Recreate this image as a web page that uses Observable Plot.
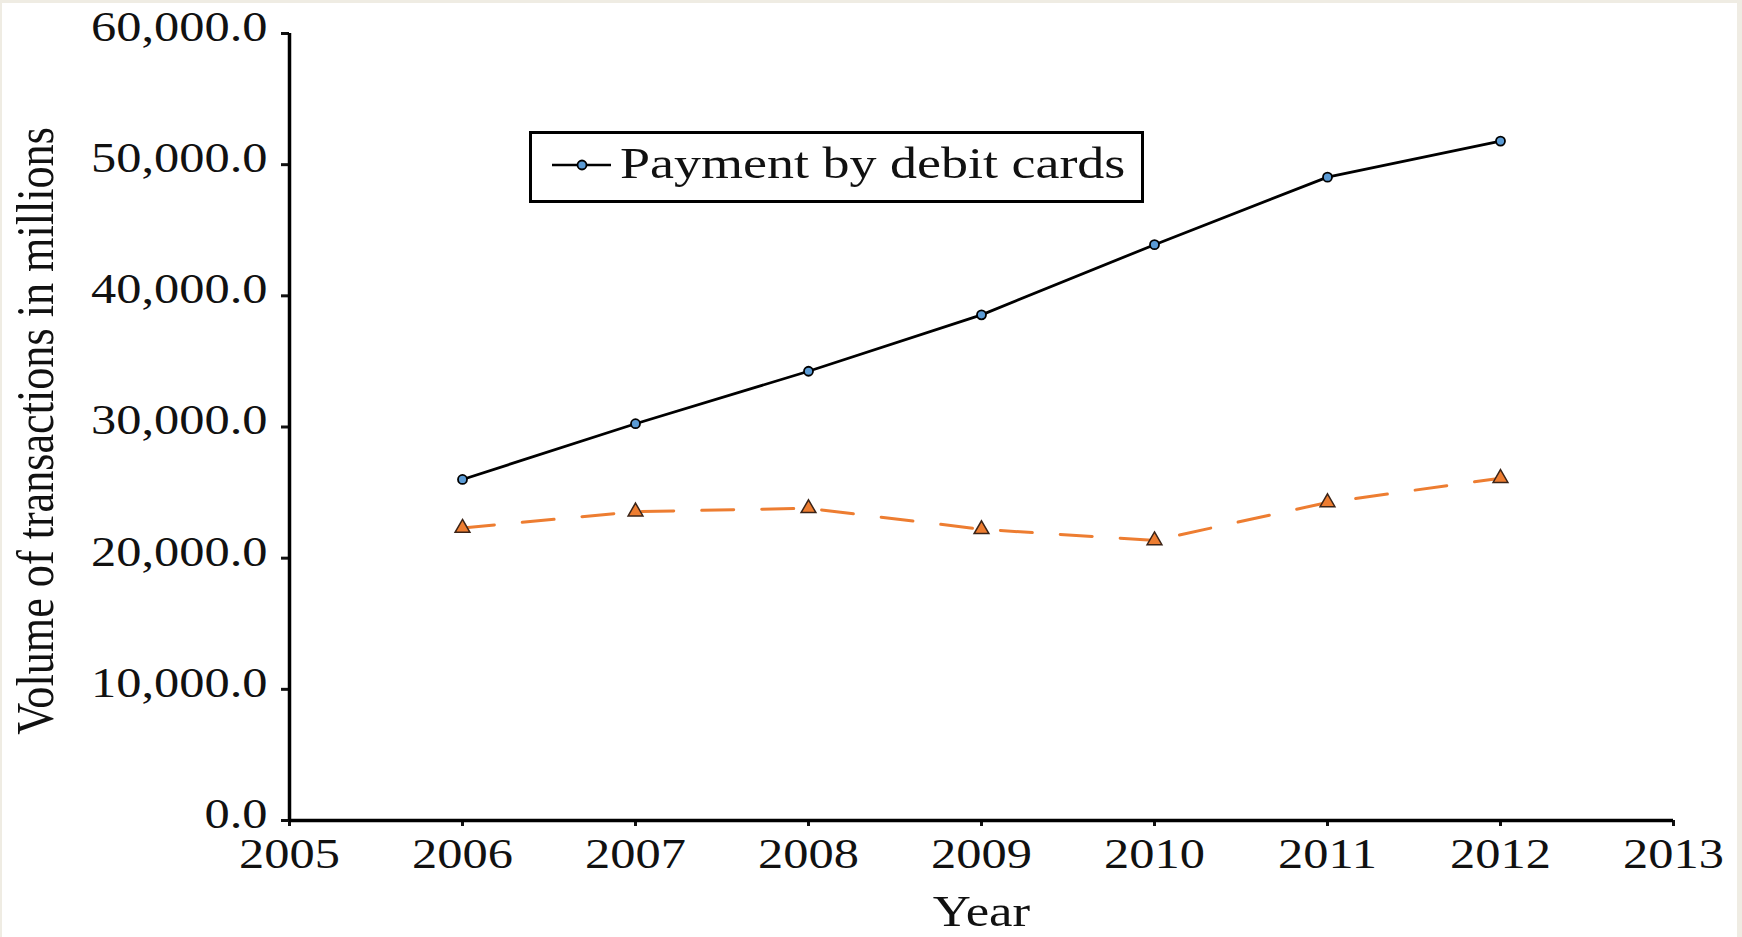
<!DOCTYPE html>
<html>
<head>
<meta charset="utf-8">
<script src="https://cdn.jsdelivr.net/npm/d3@7"></script>
<script src="https://cdn.jsdelivr.net/npm/@observablehq/plot@0.6"></script>
<style>
  html, body { margin: 0; padding: 0; background: #efece3; }
  #wrap { position: relative; width: 1742px; height: 937px; overflow: hidden; background: #fff; }
  #chart svg { display: block; background: #fff; }
  .strip { position: absolute; background: #efece3; }
  #legend {
    position: absolute; left: 529px; top: 131px; width: 615px; height: 72px;
    box-sizing: border-box; border: 3px solid #000; background: #fff;
  }
  #legend svg { display: block; }
</style>
</head>
<body>
<div id="wrap">
  <div id="chart"></div>
  <div id="legend"></div>
  <div class="strip" style="left:0;top:0;width:1742px;height:3px"></div>
  <div class="strip" style="left:0;top:0;width:2px;height:937px"></div>
  <div class="strip" style="left:1737px;top:0;width:5px;height:937px"></div>
</div>
<script>
// ---- data ----
const years = [2006, 2007, 2008, 2009, 2010, 2011, 2012];
const debitCards = [26000, 30250, 34250, 38550, 43900, 49050, 51800];
const otherPayments = [22300, 23550, 23800, 22200, 21350, 24250, 26100];
const xTicks = [2005, 2006, 2007, 2008, 2009, 2010, 2011, 2012, 2013];
const yTicks = [0, 10000, 20000, 30000, 40000, 50000, 60000];
const legendLabel = "Payment by debit cards";
const xLabel = "Year";
const yLabel = "Volume of transactions in millions";

const debitData = years.map((y, i) => ({year: y, value: debitCards[i]}));
const otherData = years.map((y, i) => ({year: y, value: otherPayments[i]}));

const orange = "#ed7d31";
const font = "'Liberation Serif', 'Times New Roman', serif";
const stretch = 1.2; // the reference's text is widened horizontally

const chart = Plot.plot({
  width: 1742,
  height: 937,
  marginLeft: 289,
  marginRight: 69,
  marginTop: 33,
  marginBottom: 117,
  style: {fontFamily: font, fontSize: "42px", color: "#111", background: "#fff"},
  x: {domain: [2005, 2013]},
  y: {domain: [0, 60000]},
  marks: [
    // y tick marks
    Plot.axisY({ticks: yTicks, tickFormat: () => "", tickSize: 8, strokeWidth: 3, label: null}),
    // y tick labels (slightly raised, as in the reference)
    Plot.axisY({ticks: yTicks, tickFormat: d3.format(",.1f"), tickSize: 0, tickPadding: 22,
                dy: -6, label: null, fontSize: 42}),
    Plot.axisX({ticks: xTicks, tickFormat: d => String(d), tickSize: 6, tickPadding: 12,
                strokeWidth: 3, label: null, fontSize: 42}),
    Plot.ruleX([2005], {stroke: "#000", strokeWidth: 3.5}),
    Plot.ruleY([0], {stroke: "#000", strokeWidth: 3.5}),
    Plot.line(otherData, {x: "year", y: "value", stroke: orange, strokeWidth: 3, strokeDasharray: "32,28"}),
    Plot.dot(otherData, {x: "year", y: "value", symbol: "triangle", r: 5.5, fill: orange, stroke: "#3b2418", strokeWidth: 1.5}),
    Plot.line(debitData, {x: "year", y: "value", stroke: "#000", strokeWidth: 2.8}),
    Plot.dot(debitData, {x: "year", y: "value", symbol: "circle", r: 4.5, fill: "#5b9bd5", stroke: "#000", strokeWidth: 1.8}),
    Plot.text([xLabel], {frameAnchor: "bottom", dy: 91, lineAnchor: "middle", textAnchor: "middle",
                         text: d => d, fontSize: 44, fill: "#111"}),
    Plot.text([yLabel], {frameAnchor: "left", dx: -253, dy: 4, rotate: -90, lineAnchor: "middle",
                         textAnchor: "middle", text: d => d, fontSize: 53, fill: "#111", className: "ylab"})
  ]
});
document.getElementById("chart").appendChild(chart);

// widen horizontal texts, squeeze the rotated label along its length
chart.querySelectorAll("text").forEach(t => {
  const L = t.getComputedTextLength();
  if (!L) return;
  const rotated = t.closest("g.ylab") !== null;
  t.setAttribute("textLength", rotated ? L / stretch : L * stretch);
  t.setAttribute("lengthAdjust", "spacingAndGlyphs");
});

// legend
const leg = d3.select("#legend").append("svg").attr("width", 609).attr("height", 66);
leg.append("line").attr("x1", 20).attr("x2", 79).attr("y1", 31).attr("y2", 31)
  .attr("stroke", "#000").attr("stroke-width", 2.5);
leg.append("circle").attr("cx", 50).attr("cy", 31).attr("r", 4.5)
  .attr("fill", "#5b9bd5").attr("stroke", "#000").attr("stroke-width", 1.8);
const lt = leg.append("text").attr("x", 88).attr("y", 44)
  .attr("font-family", font).attr("font-size", 45).attr("fill", "#111").text(legendLabel);
const LL = lt.node().getComputedTextLength();
lt.attr("textLength", LL * stretch).attr("lengthAdjust", "spacingAndGlyphs");
</script>
</body>
</html>
